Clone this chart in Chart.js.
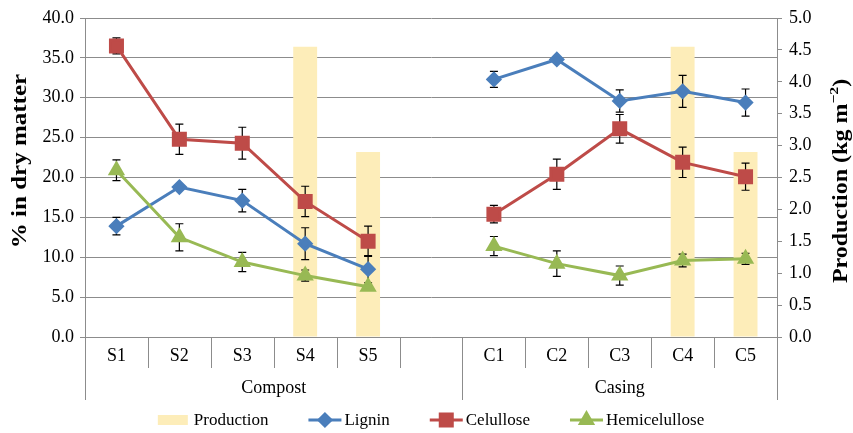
<!DOCTYPE html>
<html>
<head>
    <title>Lignin, cellulose and hemicellulose</title>
    <script src="https://cdn.jsdelivr.net/npm/chart.js"></script>
    <style>
        body {
            margin: 0;
            padding: 0;
            background-color: white;
        }
        #chart-box {
            width: 853px;
            height: 433px;
            position: relative;
        }
    </style>
</head>
<body>
    <div id="chart-box"><canvas id="chart"></canvas></div>
    <script>
        // categories (empty slot separates the two groups)
        const categories = ['S1', 'S2', 'S3', 'S4', 'S5', '', 'C1', 'C2', 'C3', 'C4', 'C5'];
        const groups = [
            { label: 'Compost', from: 0, to: 5 },
            { label: 'Casing', from: 6, to: 10 }
        ];

        // production (kg m-2), right axis
        const production = [null, null, null, 4.55, 2.9, null, null, null, null, 4.55, 2.9];

        // % in dry matter, left axis
        const lignin = [13.9, 18.8, 17.1, 11.7, 8.5, null, 32.3, 34.8, 29.6, 30.8, 29.4];
        const ligninErr = [1.1, 0.2, 1.4, 2.0, 1.7, null, 1.0, 0.2, 1.4, 2.0, 1.7];

        const celullose = [36.5, 24.8, 24.3, 17.0, 12.0, null, 15.4, 20.4, 26.1, 21.9, 20.1];
        const celulloseErr = [1.0, 1.9, 2.0, 1.9, 1.9, null, 1.1, 1.9, 1.8, 1.9, 1.7];

        const hemicelullose = [20.9, 12.5, 9.4, 7.7, 6.3, null, 11.4, 9.2, 7.7, 9.6, 9.8];
        const hemicelulloseErr = [1.3, 1.7, 1.2, 0.7, 0, null, 1.2, 1.6, 1.2, 0.8, 0.7];

        const serif = "'Liberation Serif', 'Times New Roman', serif";
        const gridColor = '#8c8c8c';

        // error bars, drawn right after the production bars (under the lines)
        const errorBarPlugin = {
            id: 'errorBars',
            afterDatasetDraw(chart, args) {
                if (args.index !== 0) return;
                const ctx = chart.ctx;
                const yScale = chart.scales.y;
                ctx.save();
                ctx.strokeStyle = '#000';
                ctx.lineWidth = 1.2;
                chart.data.datasets.forEach((ds, i) => {
                    if (!ds.errors) return;
                    const meta = chart.getDatasetMeta(i);
                    ds.data.forEach((v, j) => {
                        const e = ds.errors[j];
                        if (v === null || !e) return;
                        const x = meta.data[j].x;
                        const top = yScale.getPixelForValue(v + e);
                        const bot = yScale.getPixelForValue(v - e);
                        ctx.beginPath();
                        ctx.moveTo(x, top); ctx.lineTo(x, bot);
                        ctx.moveTo(x - 4, top); ctx.lineTo(x + 4, top);
                        ctx.moveTo(x - 4, bot); ctx.lineTo(x + 4, bot);
                        ctx.stroke();
                    });
                });
                ctx.restore();
            }
        };

        // two level category axis: separators + group labels
        const groupAxisPlugin = {
            id: 'groupAxis',
            afterDraw(chart) {
                const ctx = chart.ctx;
                const x = chart.scales.x;
                const area = chart.chartArea;
                const n = categories.length;
                const half = (x.getPixelForValue(1) - x.getPixelForValue(0)) / 2;
                const edges = groups.map(g => g.from).concat([n]);
                ctx.save();
                ctx.strokeStyle = gridColor;
                ctx.lineWidth = 1;
                for (let i = 0; i <= n; i++) {
                    const px = Math.round(x.getPixelForValue(i) - half) + 0.5;
                    const long = edges.includes(i);
                    ctx.beginPath();
                    ctx.moveTo(px, area.bottom);
                    ctx.lineTo(px, area.bottom + (long ? 63 : 31));
                    ctx.stroke();
                }
                ctx.fillStyle = '#000';
                ctx.font = '18px ' + serif;
                ctx.textAlign = 'center';
                ctx.textBaseline = 'middle';
                groups.forEach((g, k) => {
                    const left = x.getPixelForValue(g.from) - half;
                    const right = x.getPixelForValue(edges[k + 1]) - half;
                    ctx.fillText(g.label, (left + right) / 2, area.bottom + 51);
                });
                ctx.restore();
            }
        };

        // rotated bold axis titles (with a real superscript on the right one)
        const axisTitlePlugin = {
            id: 'axisTitles',
            afterDraw(chart) {
                const ctx = chart.ctx;
                const area = chart.chartArea;
                const drawRot = (parts, cx, cy, angle, stretch) => {
                    ctx.save();
                    ctx.translate(cx, cy);
                    ctx.rotate(angle);
                    ctx.scale(stretch, 1);
                    ctx.fillStyle = '#000';
                    ctx.textBaseline = 'middle';
                    ctx.textAlign = 'left';
                    let w = 0;
                    parts.forEach(p => {
                        ctx.font = 'bold ' + p.size + 'px ' + serif;
                        w += ctx.measureText(p.text).width;
                    });
                    let x = -w / 2;
                    parts.forEach(p => {
                        ctx.font = 'bold ' + p.size + 'px ' + serif;
                        ctx.fillText(p.text, x, p.dy || 0);
                        x += ctx.measureText(p.text).width;
                    });
                    ctx.restore();
                };
                drawRot([{ text: '% in dry matter', size: 20 }],
                    21, area.top + 143, -Math.PI / 2, 1.25);
                drawRot([
                    { text: 'Production (kg m', size: 20 },
                    { text: '\u22122', size: 13, dy: -7 },
                    { text: ')', size: 20 }
                ], 842, area.top + 163, -Math.PI / 2, 1.2);
            }
        };

        // legend with line + marker symbols
        const legendPlugin = {
            id: 'customLegend',
            afterDraw(chart) {
                const ctx = chart.ctx;
                const area = chart.chartArea;
                const y = 420;
                const symW = 33, gapText = 3, gapItem = 40;
                ctx.save();
                ctx.font = '17px ' + serif;
                const items = chart.data.datasets;
                let total = 0;
                items.forEach((ds, i) => {
                    total += symW + gapText + ctx.measureText(ds.label).width;
                    if (i < items.length - 1) total += gapItem;
                });
                let cx = (area.left + area.right) / 2 - total / 2;
                items.forEach(ds => {
                    if (ds.type === 'bar') {
                        ctx.fillStyle = ds.backgroundColor;
                        ctx.fillRect(cx, y - 5, symW - 3, 10);
                    } else {
                        ctx.strokeStyle = ds.borderColor;
                        ctx.lineWidth = 3;
                        ctx.beginPath();
                        ctx.moveTo(cx, y); ctx.lineTo(cx + symW, y);
                        ctx.stroke();
                        ctx.fillStyle = ds.borderColor;
                        Chart.helpers.drawPoint(ctx, {
                            pointStyle: ds.pointStyle,
                            radius: ds.pointRadius,
                            borderWidth: 1
                        }, cx + symW / 2, y);
                        ctx.fill();
                    }
                    cx += symW + gapText;
                    ctx.fillStyle = '#000';
                    ctx.textAlign = 'left';
                    ctx.textBaseline = 'middle';
                    ctx.fillText(ds.label, cx, y + 1);
                    cx += ctx.measureText(ds.label).width + gapItem;
                });
                ctx.restore();
            }
        };

        function lineSet(label, data, errors, color, style, radius, order) {
            return {
                type: 'line',
                label: label,
                data: data,
                errors: errors,
                yAxisID: 'y',
                borderColor: color,
                backgroundColor: color,
                pointBackgroundColor: color,
                pointBorderColor: color,
                borderWidth: 3,
                pointStyle: style,
                pointRadius: radius,
                pointHoverRadius: radius,
                spanGaps: false,
                order: order
            };
        }

        new Chart(document.getElementById('chart'), {
            type: 'bar',
            data: {
                labels: categories,
                datasets: [
                    {
                        type: 'bar',
                        label: 'Production',
                        data: production,
                        yAxisID: 'y1',
                        backgroundColor: '#fdedb9',
                        barPercentage: 0.38,
                        categoryPercentage: 1,
                        order: 10
                    },
                    lineSet('Lignin', lignin, ligninErr, '#4a7ebb', 'rectRot', 6, 3),
                    lineSet('Celullose', celullose, celulloseErr, '#be4b48', 'rect', 8.5, 2),
                    lineSet('Hemicelullose', hemicelullose, hemicelulloseErr, '#98b954', 'triangle', 7, 1)
                ]
            },
            options: {
                responsive: true,
                maintainAspectRatio: false,
                animation: false,
                layout: { padding: { top: 18, left: 0, right: 0, bottom: 0 } },
                plugins: {
                    legend: { display: false },
                    tooltip: { enabled: false }
                },
                scales: {
                    x: {
                        offset: true,
                        grid: { drawOnChartArea: false, drawTicks: false },
                        border: { color: gridColor },
                        ticks: { color: '#000', font: { family: serif, size: 18 }, padding: 8, maxRotation: 0 },
                        afterFit: s => { s.height = 96; }
                    },
                    y: {
                        position: 'left',
                        min: 0,
                        max: 40,
                        ticks: {
                            stepSize: 5,
                            color: '#000',
                            padding: 6,
                            font: { family: serif, size: 18 },
                            callback: v => v.toFixed(1)
                        },
                        grid: { color: gridColor, tickLength: 5 },
                        border: { color: gridColor },
                        afterFit: s => { s.width = 85; }
                    },
                    y1: {
                        position: 'right',
                        min: 0,
                        max: 5,
                        ticks: {
                            stepSize: 0.5,
                            color: '#000',
                            padding: 7,
                            font: { family: serif, size: 18 },
                            callback: v => v.toFixed(1)
                        },
                        grid: { drawOnChartArea: false, color: gridColor, tickLength: 5 },
                        border: { color: gridColor },
                        afterFit: s => { s.width = 76; }
                    }
                }
            },
            plugins: [errorBarPlugin, groupAxisPlugin, axisTitlePlugin, legendPlugin]
        });
    </script>
</body>
</html>
